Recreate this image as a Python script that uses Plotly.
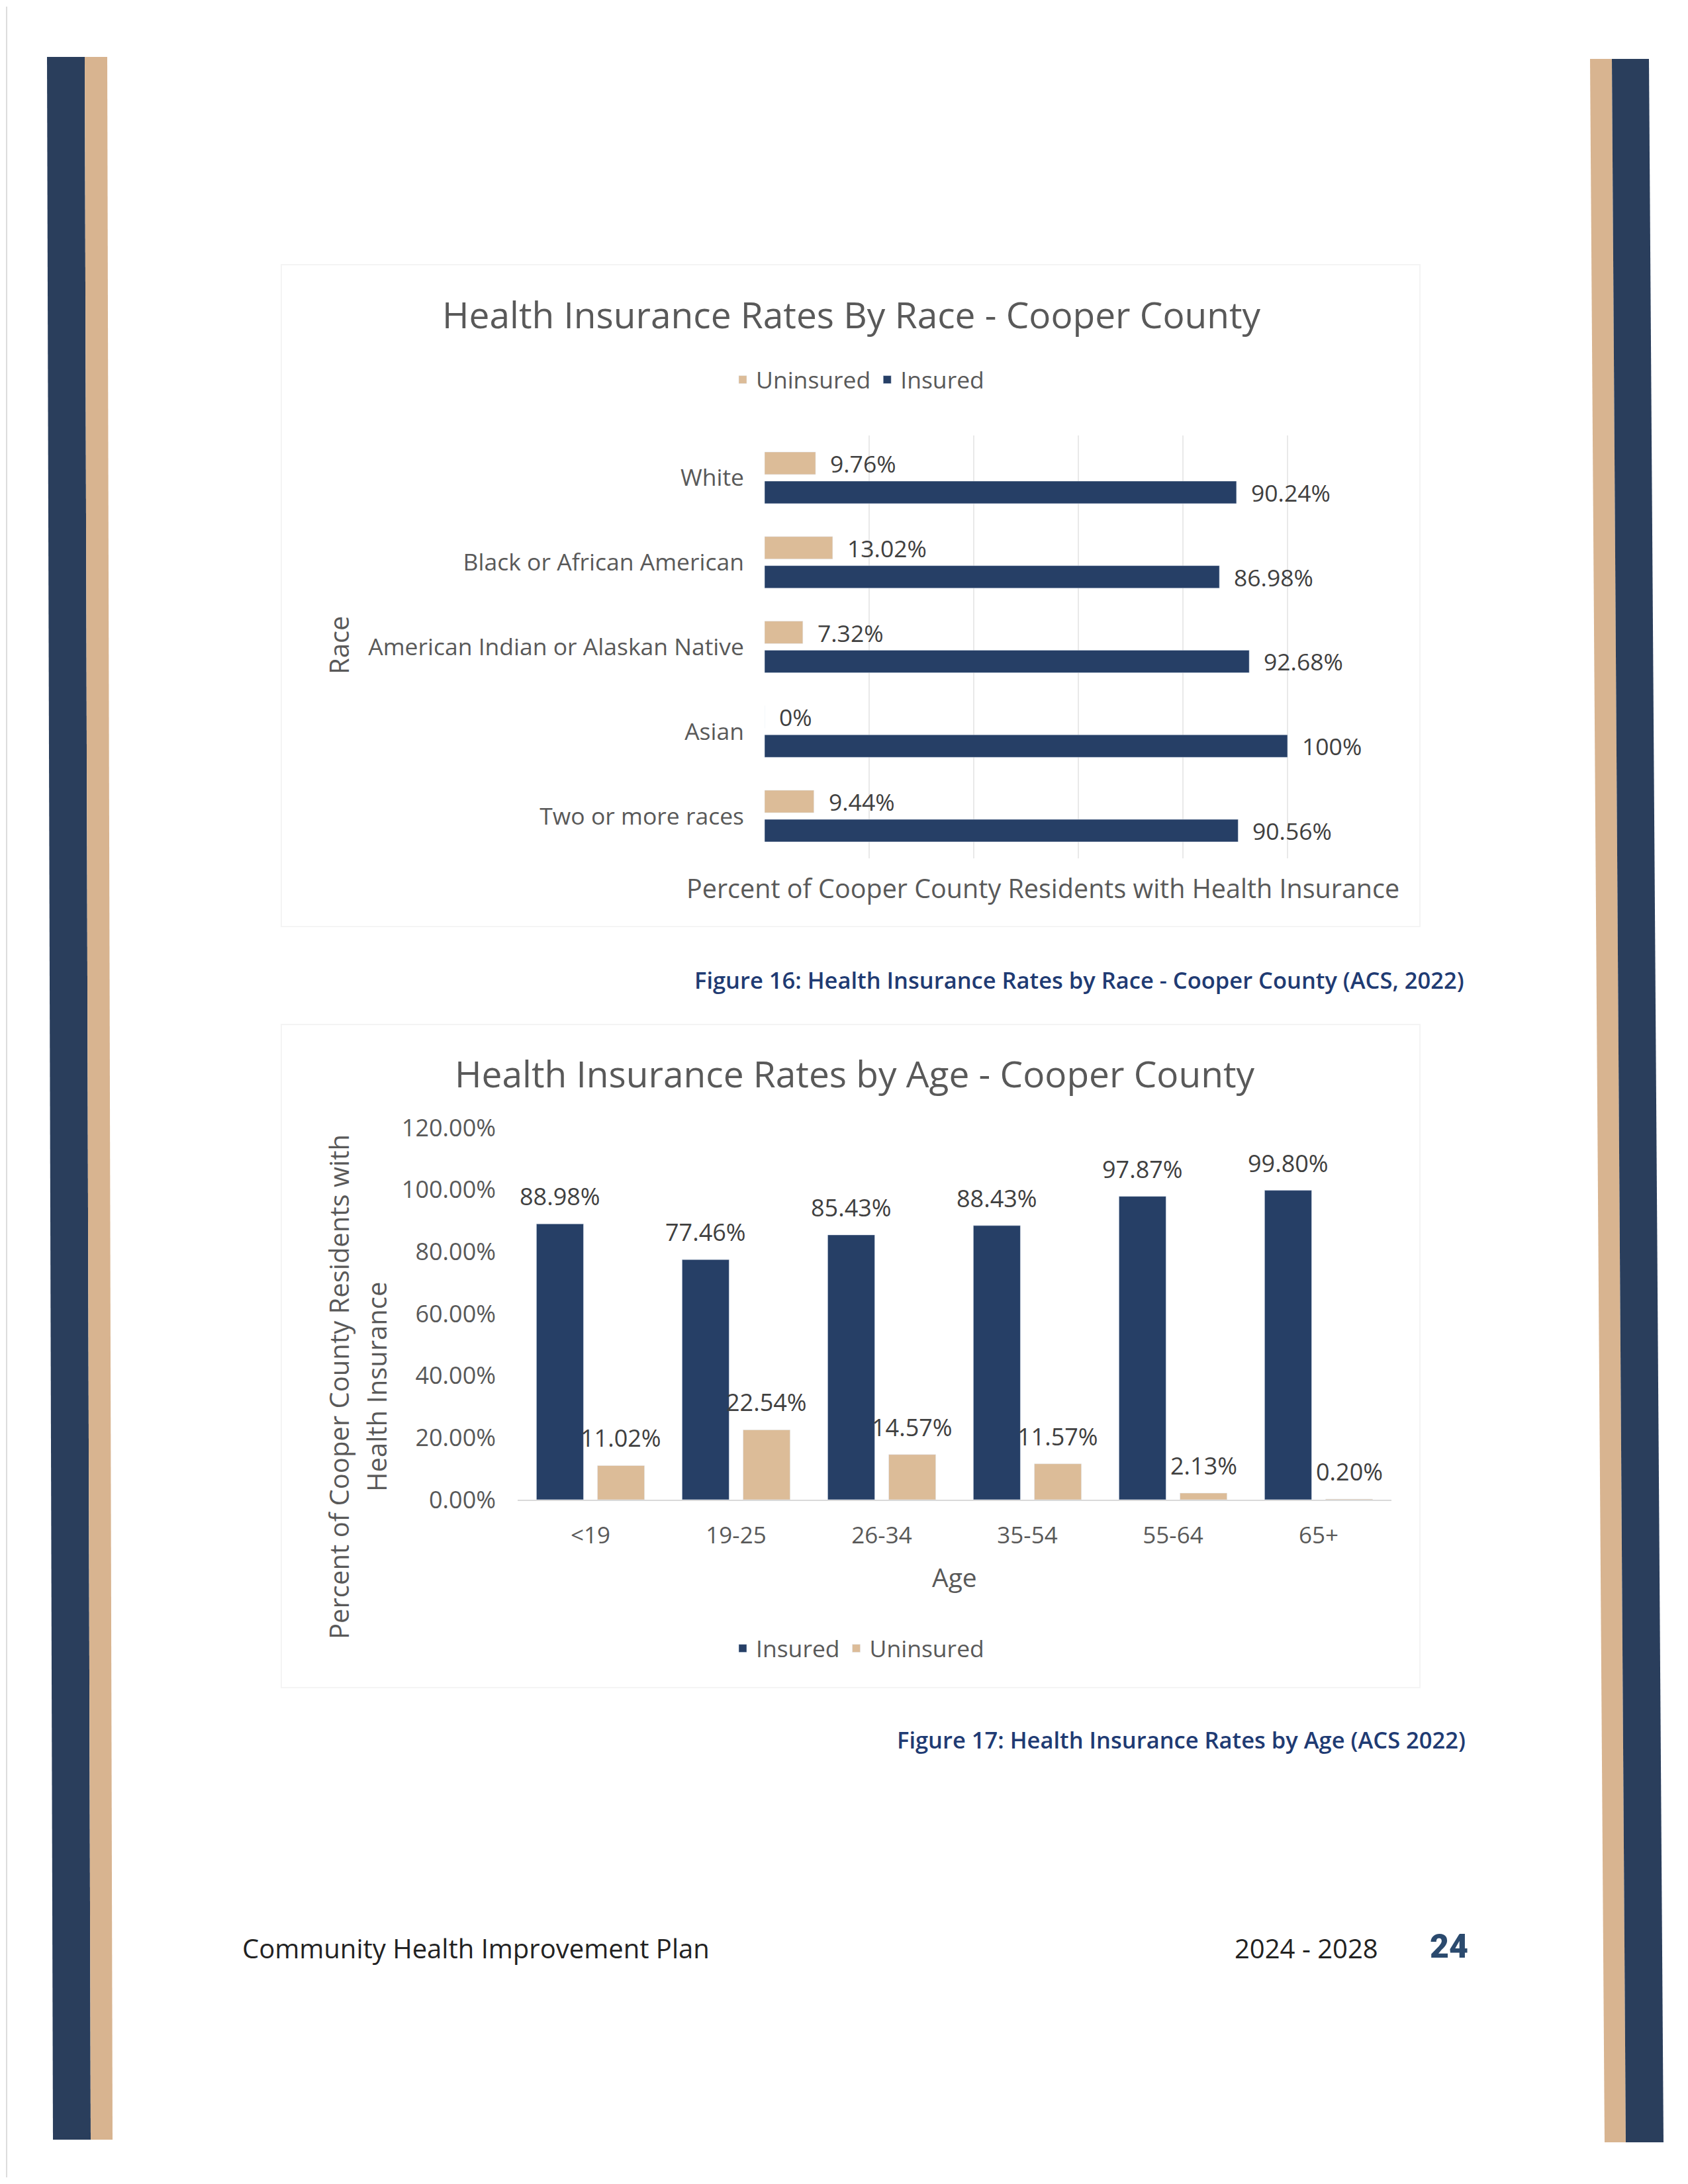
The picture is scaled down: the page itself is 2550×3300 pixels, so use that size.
import plotly.graph_objects as go

# ---------------- data ----------------
races = ["White", "Black or African American", "American Indian or Alaskan Native",
         "Asian", "Two or more races"]
race_uninsured = [9.76, 13.02, 7.32, 0, 9.44]
race_insured = [90.24, 86.98, 92.68, 100, 90.56]

ages = ["<19", "19-25", "26-34", "35-54", "55-64", "65+"]
age_insured = [88.98, 77.46, 85.43, 88.43, 97.87, 99.80]
age_uninsured = [11.02, 22.54, 14.57, 11.57, 2.13, 0.20]

pct_ticks = [0, 20, 40, 60, 80, 100, 120]

# ---------------- style ----------------
# figure sized so the html page (with 8px body margins) fits the 2550x3300 window
OX, OY = 8, 8
FW, FH = 2534, 3284
NAVY = "#263f66"
TAN = "#dcbc98"
GRAY = "#595959"
DARK = "#404040"
CAP = "#1f3b73"
FONT = "Open Sans"


def px(x):
    return (x - OX) / FW


def py(y):
    return 1 - (y - OY) / FH


fig = go.Figure()

# ---- chart 1 : horizontal bars (race) ----
w1 = 0.266
off_u1, off_i1 = -0.305, 0.039
fig.add_trace(go.Bar(y=races, x=race_uninsured, orientation="h", name="Uninsured",
                     marker=dict(color=TAN), width=w1, offset=off_u1,
                     xaxis="x", yaxis="y", legend="legend", hoverinfo="x+y"))
fig.add_trace(go.Bar(y=races, x=race_insured, orientation="h", name="Insured",
                     marker=dict(color=NAVY), width=w1, offset=off_i1,
                     xaxis="x", yaxis="y", legend="legend", hoverinfo="x+y"))

# ---- chart 2 : vertical bars (age) ----
w2 = 0.323
off_i2, off_u2 = -0.371, 0.048
fig.add_trace(go.Bar(x=ages, y=age_insured, name="Insured", marker=dict(color=NAVY),
                     width=w2, offset=off_i2, xaxis="x2", yaxis="y2",
                     legend="legend2"))
fig.add_trace(go.Bar(x=ages, y=age_uninsured, name="Uninsured", marker=dict(color=TAN),
                     width=w2, offset=off_u2, xaxis="x2", yaxis="y2",
                     legend="legend2"))

ann = []
# value labels chart 1
for i, (u, ins) in enumerate(zip(race_uninsured, race_insured)):
    ann.append(dict(x=u, y=i + off_u1 + w1 / 2, xref="x", yref="y", text=f"{u:g}%",
                    showarrow=False, xanchor="left", yanchor="middle", xshift=20,
                    font=dict(family=FONT, size=35.5, color=DARK)))
    ann.append(dict(x=ins, y=i + off_i1 + w1 / 2, xref="x", yref="y", text=f"{ins:g}%",
                    showarrow=False, xanchor="left", yanchor="middle", xshift=20,
                    font=dict(family=FONT, size=35.5, color=DARK)))
# value labels chart 2
for i, (ins, u) in enumerate(zip(age_insured, age_uninsured)):
    ann.append(dict(x=i + off_i2 + w2 / 2, y=ins, xref="x2", yref="y2", text=f"{ins:.2f}%",
                    showarrow=False, xanchor="center", yanchor="bottom", yshift=15,
                    font=dict(family=FONT, size=36, color=DARK)))
    ann.append(dict(x=i + off_u2 + w2 / 2, y=u, xref="x2", yref="y2", text=f"{u:.2f}%",
                    showarrow=False, xanchor="center", yanchor="bottom", yshift=15,
                    font=dict(family=FONT, size=36, color=DARK)))


def text(x, y, s, size, color=GRAY, xanchor="center", angle=0, weight=400, family=FONT):
    ann.append(dict(x=px(x), y=py(y), xref="paper", yref="paper", text=s, showarrow=False,
                    xanchor=xanchor, yanchor="middle", textangle=angle,
                    font=dict(family=family, size=size, color=color, weight=weight)))


# titles & axis titles
text(1286, 475, "Health Insurance Rates By Race - Cooper County", 55)
text(1575, 1342, "Percent of Cooper County Residents with Health Insurance", 39.5)
text(511, 975, "Race", 40, angle=-90)
text(2214, 1480, "Figure 16: Health Insurance Rates by Race - Cooper County (ACS, 2022)",
     34.5, color=CAP, xanchor="right", weight=600)

text(1291, 1621, "Health Insurance Rates by Age - Cooper County", 55)
text(511, 2096, "Percent of Cooper County Residents with", 40, angle=-90)
text(568, 2096, "Health Insurance", 40, angle=-90)
text(1442, 2382, "Age", 39)
text(2216, 2628, "Figure 17: Health Insurance Rates by Age (ACS 2022)",
     34.5, color=CAP, xanchor="right", weight=600)

# footer
text(364, 2943, "Community Health Improvement Plan", 40, color="#222222", xanchor="left")
text(2084, 2943, "2024 - 2028", 40, color="#222222", xanchor="right")
text(2220, 2941, "24", 50, color="#2b4a6e", xanchor="right", weight=900, family="Roboto")


# decorative page stripes (slightly skewed, as on the scan)
def quad(xt0, xt1, xb0, xb1, yt, yb, color):
    path = (f"M{px(xt0)},{py(yt)} L{px(xt1)},{py(yt)} L{px(xb1)},{py(yb)} "
            f"L{px(xb0)},{py(yb)} Z")
    return dict(type="path", xref="paper", yref="paper", path=path,
                fillcolor=color, line=dict(width=0), layer="below")


shapes = [
    quad(71, 128, 80, 137, 86, 3233, "#2a3e5c"),
    quad(128, 162, 137, 170, 86, 3233, "#d8b490"),
    quad(2402, 2435, 2424, 2456, 89, 3237, "#d8b490"),
    quad(2435, 2491, 2456, 2513, 89, 3237, "#2a3e5c"),
    dict(type="line", xref="paper", yref="paper", x0=px(10), x1=px(10), y0=py(10), y1=py(3290),
         line=dict(color="#dddddd", width=2)),
    # faint chart frames
    dict(type="rect", xref="paper", yref="paper", x0=px(425), x1=px(2145), y0=py(400),
         y1=py(1400), line=dict(color="#f4f4f4", width=2), layer="below"),
    dict(type="rect", xref="paper", yref="paper", x0=px(425), x1=px(2145), y0=py(1548),
         y1=py(2550), line=dict(color="#f4f4f4", width=2), layer="below"),
]

fig.update_layout(
    width=FW, height=FH, margin=dict(l=0, r=0, t=0, b=0, autoexpand=False),
    paper_bgcolor="white", plot_bgcolor="white",
    barmode="overlay",
    font=dict(family=FONT, color=GRAY),
    xaxis=dict(domain=[px(1155), px(2103)], range=[0, 120], anchor="y",
               tickvals=pct_ticks, showticklabels=False, showgrid=True,
               gridcolor="#e9e9e9", gridwidth=2, zeroline=False, showline=False,
               fixedrange=True, automargin=False),
    yaxis=dict(domain=[py(1297), py(658)], type="category", range=[4.5, -0.5],
               anchor="x", showgrid=False, zeroline=False, showline=False, ticks="",
               automargin=False, ticklabelstandoff=30,
               tickfont=dict(family=FONT, size=35.5, color=GRAY)),
    xaxis2=dict(domain=[px(782), px(2102)], type="category", range=[-0.5, 5.5],
                anchor="y2", showgrid=False, zeroline=False, showline=True,
                linecolor="#d9d9d9", linewidth=2, ticks="", ticklabelstandoff=22,
                automargin=False, tickfont=dict(family=FONT, size=35, color=GRAY)),
    yaxis2=dict(domain=[py(2266), py(1704)], range=[0, 120], anchor="x2",
                tickvals=pct_ticks, ticktext=[f"{v:.2f}%" for v in pct_ticks],
                showgrid=False, zeroline=False, showline=False, ticks="",
                automargin=False, ticklabelstandoff=32,
                tickfont=dict(family=FONT, size=36, color=GRAY)),
    legend=dict(orientation="h", x=px(1297), y=py(574), xanchor="center", yanchor="middle",
                font=dict(family=FONT, size=35.5, color=GRAY), bgcolor="rgba(0,0,0,0)",
                itemclick=False),
    legend2=dict(orientation="h", x=px(1297), y=py(2491), xanchor="center",
                 yanchor="middle", font=dict(family=FONT, size=35.5, color=GRAY),
                 bgcolor="rgba(0,0,0,0)", itemclick=False),
    annotations=ann,
    shapes=shapes,
)

fig.write_html("out.html")
